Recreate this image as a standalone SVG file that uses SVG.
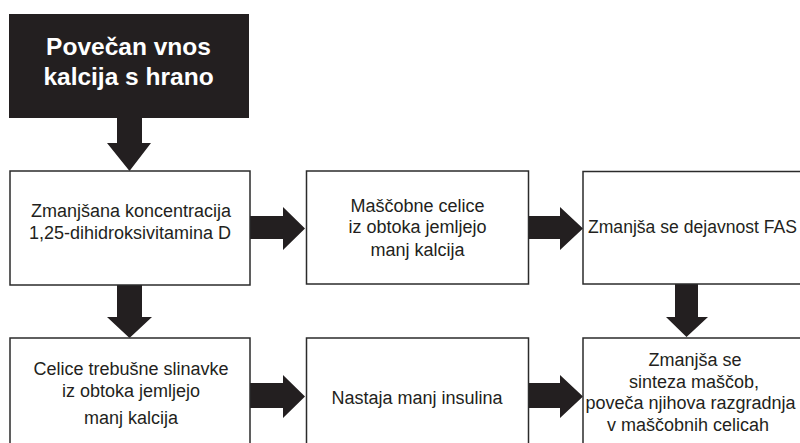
<svg xmlns="http://www.w3.org/2000/svg" width="800" height="443" viewBox="0 0 800 443">
<style>
.box{fill:#ffffff;stroke:#2b2b2b;stroke-width:1.5}
.t{font-family:"Liberation Sans",Arial,Helvetica,sans-serif;font-size:18px;fill:#231f20;text-anchor:middle}
.title{font-family:"Liberation Sans",Arial,Helvetica,sans-serif;font-size:24.5px;font-weight:bold;fill:#ffffff;text-anchor:middle}
.arrow{fill:#231f20}
</style>
<rect width="800" height="443" fill="#ffffff"/>
<g id="connectors">
<polygon class="arrow" points="117,118 142,118 142,143 151,143 129.5,171 107,143 117,143"/>
<polygon class="arrow" points="117,285 142,285 142,317 152,317 129.5,338 107,317 117,317"/>
<polygon class="arrow" points="675,284 698,284 698,317 708,317 686.5,337 666,317 675,317"/>
<polygon class="arrow" points="250,216 283,216 283,207 305,228.5 283,250 283,239 250,239"/>
<polygon class="arrow" points="529,216 560,216 560,207 583,228.5 560,250 560,239 529,239"/>
<polygon class="arrow" points="250,383 283,383 283,375 305,396.5 283,418 283,408 250,408"/>
<polygon class="arrow" points="528,383 560,383 560,375 583,396.5 560,418 560,408 528,408"/>
</g>
<g id="n0">
<rect x="9" y="14" width="240" height="104" fill="#231f20"/>
<text class="title" x="128.5" y="55">Povečan vnos</text>
<text class="title" x="128.5" y="85">kalcija s hrano</text>
</g>
<g id="n1">
<rect class="box" x="10" y="171" width="240" height="114"/>
<text class="t" x="131" y="217">Zmanjšana koncentracija</text>
<text class="t" x="130" y="238.5">1,25-dihidroksivitamina D</text>
</g>
<g id="n2">
<rect class="box" x="306.5" y="171" width="222" height="113"/>
<text class="t" x="417.5" y="211.5">Maščobne celice</text>
<text class="t" x="417.5" y="233">iz obtoka jemljejo</text>
<text class="t" x="417.5" y="255.5">manj kalcija</text>
</g>
<g id="n3">
<rect class="box" x="583" y="171.5" width="230" height="112.5"/>
<text class="t" x="588" y="232.5" style="text-anchor:start;font-size:17.5px" textLength="209" lengthAdjust="spacingAndGlyphs">Zmanjša se dejavnost FAS</text>
</g>
<g id="n4">
<rect class="box" x="10" y="338" width="240" height="115"/>
<text class="t" x="131" y="375">Celice trebušne slinavke</text>
<text class="t" x="131" y="397">iz obtoka jemljejo</text>
<text class="t" x="131" y="424">manj kalcija</text>
</g>
<g id="n5">
<rect class="box" x="306.5" y="338" width="222" height="115"/>
<text class="t" x="417" y="404">Nastaja manj insulina</text>
</g>
<g id="n6">
<rect class="box" x="583" y="338" width="230" height="115"/>
<text class="t" x="695" y="365.5">Zmanjša se</text>
<text class="t" x="694" y="387.5">sinteza maščob,</text>
<text class="t" x="690.5" y="409">poveča njihova razgradnja</text>
<text class="t" x="688" y="430.5">v maščobnih celicah</text>
</g>
</svg>
